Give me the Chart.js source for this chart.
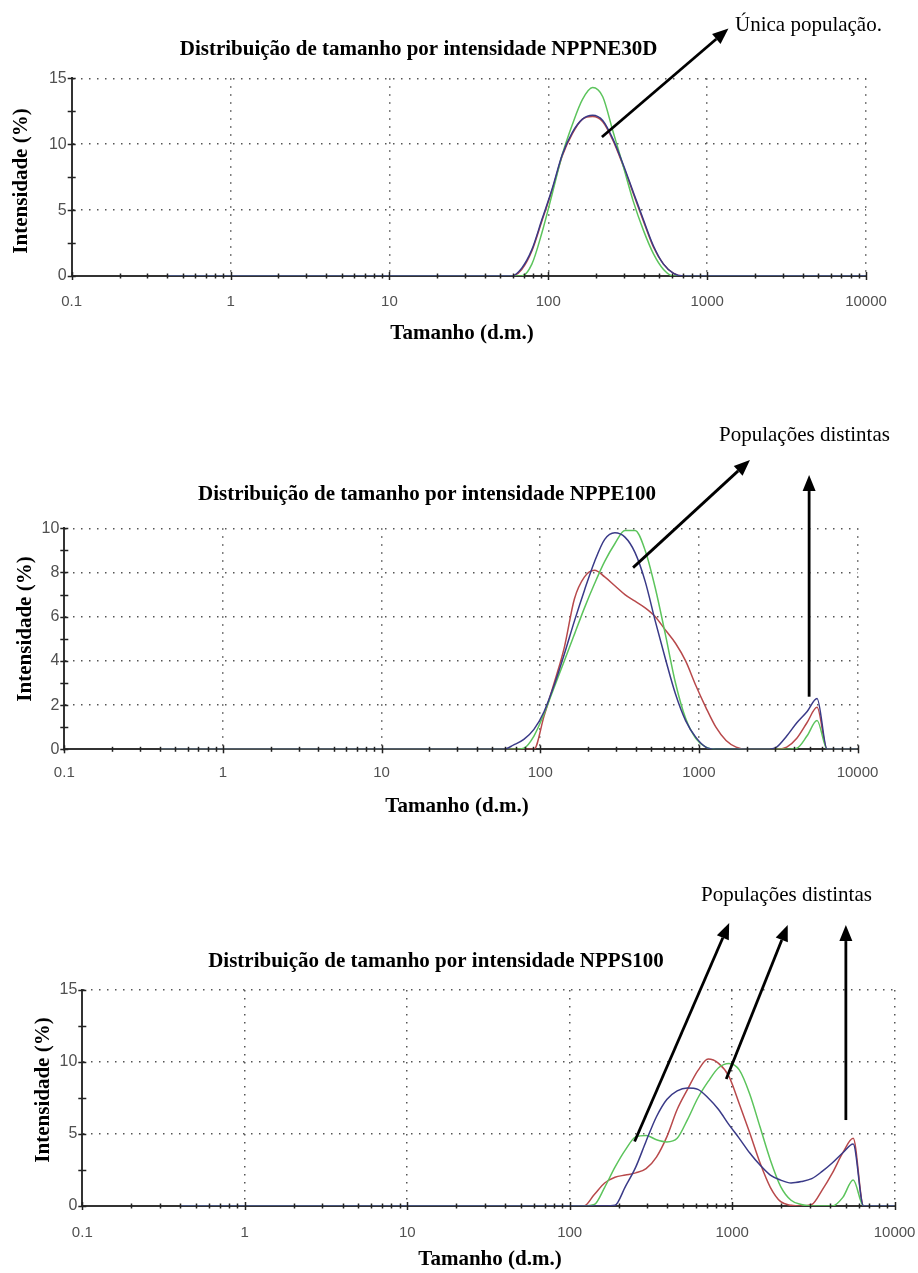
<!DOCTYPE html>
<html>
<head>
<meta charset="utf-8">
<title>Distribuição de tamanho por intensidade</title>
<script src="https://cdn.jsdelivr.net/npm/chart.js@4.4.1/dist/chart.umd.min.js"></script>
<style>
html,body{margin:0;padding:0;background:#fff;width:918px;height:1273px;overflow:hidden;}
canvas{position:absolute;left:0;display:block;}
</style>
</head>
<body>
<canvas id="c1"></canvas>
<canvas id="c2"></canvas>
<canvas id="c3"></canvas>
<script>
// ---------------- DATA ----------------
// Size bins (d.nm) of the distribution
const SIZES = [0.4, 58.77, 68.06, 78.82, 91.28, 105.7, 122.4, 141.8, 164.2, 190.1, 220.2, 255.0, 295.3, 342.0, 396.1, 458.7, 531.2, 615.1, 712.4, 825.0, 955.4, 1106, 1281, 1484, 1718, 1990, 2305, 2669, 3091, 3580, 4145, 4801, 5560, 6439, 7456, 8635, 10000];

// NPPNE30D
const NPPNE30D_BLUE  = [0, 0, 0.6, 2.0, 4.3, 6.6, 9.2, 10.9, 11.9, 12.2, 11.8, 10.4, 8.5, 6.4, 4.3, 2.3, 0.9, 0.2, 0, 0, 0, 0, 0, 0, 0, 0, 0, 0, 0, 0, 0, 0, 0, 0, 0, 0, 0];
const NPPNE30D_RED   = [0, 0, 0.5, 1.9, 4.2, 6.5, 9.1, 10.8, 11.9, 12.1, 11.7, 10.3, 8.4, 6.3, 4.2, 2.2, 0.9, 0.2, 0, 0, 0, 0, 0, 0, 0, 0, 0, 0, 0, 0, 0, 0, 0, 0, 0, 0, 0];
const NPPNE30D_GREEN = [0, 0, 0, 0.9, 3.3, 6.2, 9.2, 11.5, 13.4, 14.3, 13.6, 11.0, 8.4, 5.7, 3.5, 1.7, 0.5, 0, 0, 0, 0, 0, 0, 0, 0, 0, 0, 0, 0, 0, 0, 0, 0, 0, 0, 0, 0];

// NPPE100
const NPPE100_BLUE  = [0, 0, 0.2, 0.45, 0.9, 1.7, 2.9, 4.3, 5.8, 7.2, 8.5, 9.5, 9.8, 9.6, 8.9, 7.6, 5.8, 4.1, 2.5, 1.3, 0.55, 0.1, 0, 0, 0, 0, 0, 0, 0.1, 0.6, 1.2, 1.7, 2.3, 0, 0, 0, 0];
const NPPE100_GREEN = [0, 0, 0, 0.05, 0.6, 1.6, 2.8, 4.0, 5.2, 6.4, 7.5, 8.5, 9.3, 9.9, 9.9, 9.0, 7.3, 5.2, 3.0, 1.4, 0.5, 0.1, 0, 0, 0, 0, 0, 0, 0, 0, 0.05, 0.6, 1.3, 0, 0, 0, 0];
const NPPE100_RED   = [0, 0, 0, 0, 0, 1.5, 3.0, 4.6, 6.8, 7.8, 8.1, 7.8, 7.4, 7.0, 6.7, 6.4, 6.0, 5.4, 4.8, 4.0, 2.9, 1.9, 1.0, 0.4, 0.1, 0, 0, 0, 0, 0.1, 0.5, 1.2, 1.9, 0, 0, 0, 0];

// NPPS100
const NPPS100_BLUE  = [0, 0, 0, 0, 0, 0, 0, 0, 0, 0.05, 1.35, 2.7, 4.5, 6.2, 7.4, 8.0, 8.2, 8.1, 7.5, 6.7, 5.65, 4.7, 3.7, 2.85, 2.15, 1.8, 1.6, 1.7, 1.9, 2.4, 3.0, 3.7, 4.3, 0, 0, 0, 0];
const NPPS100_GREEN = [0, 0, 0, 0, 0, 0, 0, 0.1, 1.3, 2.7, 3.9, 4.8, 4.9, 4.6, 4.45, 4.7, 6.0, 7.5, 8.65, 9.6, 9.9, 9.45, 7.8, 5.5, 3.2, 1.35, 0.4, 0.1, 0, 0, 0, 0.6, 1.8, 0, 0, 0, 0];
const NPPS100_RED   = [0, 0, 0, 0, 0, 0, 0, 0.8, 1.6, 2.0, 2.15, 2.3, 2.6, 3.4, 4.8, 6.7, 8.1, 9.4, 10.2, 9.9, 9.0, 7.1, 5.1, 3.0, 1.3, 0.3, 0.05, 0, 0.1, 1.1, 2.3, 3.7, 4.7, 0, 0, 0, 0];

// Tick labels
const X_DECADES = [0.1, 1, 10, 100, 1000, 10000];
const X_TICK_LABELS = ['0.1', '1', '10', '100', '1000', '10000'];
const Y_TICKS_15 = [0, 5, 10, 15];
const Y_TICKS_10 = [0, 2, 4, 6, 8, 10];

// Texts
const TITLES = ['Distribuição de tamanho por intensidade NPPNE30D', 'Distribuição de tamanho por intensidade NPPE100', 'Distribuição de tamanho por intensidade NPPS100'];
const NOTES = ['Única população.', 'Populações distintas', 'Populações distintas'];
const X_TITLE = 'Tamanho (d.m.)';
const Y_TITLE = 'Intensidade (%)';

// Annotation arrows in data units [size, intensity]
const ARROWS1 = [[[217.6, 10.55], [1362, 18.77]]];
const ARROWS2 = [[[384.8, 8.22], [2099, 13.09]], [[4955, 2.38], [4955, 12.41]]];
const ARROWS3 = [[[251, 4.48], [959, 19.65]], [[920, 8.82], [2198, 19.51]], [[5012, 5.97], [5012, 19.51]]];

// ---------------- STYLE ----------------
const BLUE = '#3a3a88', GREEN = '#5cc45c', RED = '#b8494b';
const SERIF = '"Liberation Serif", "Times New Roman", serif';
const SANS = '"Liberation Sans", Arial, sans-serif';
const W = 918;

function toXY(xs, ys) { return xs.map((x, i) => ({x: x, y: ys[i]})); }
function logTicks() {
  const out = [];
  for (let k = 0; k < X_DECADES.length - 1; k++) {
    out.push(X_DECADES[k]);
    for (let m = 2; m <= 9; m++) out.push(m * X_DECADES[k]);
  }
  out.push(X_DECADES[X_DECADES.length - 1]);
  return out;
}
function near(a, b) { return Math.abs(a - b) < 1e-6; }

const annotPlugin = {
  id: 'annot',
  afterDraw(chart, args, opts) {
    const ctx = chart.ctx, xs = chart.scales.x, ys = chart.scales.y, ca = chart.chartArea;
    ctx.save();
    // tick marks crossing the axes
    ctx.strokeStyle = '#222';
    ctx.lineWidth = 1.5;
    xs.ticks.forEach(t => {
      const px = Math.round(xs.getPixelForValue(t.value)) + 0.5;
      const major = X_DECADES.some(d => near(d, t.value));
      const h = major ? 4 : 2.5;
      ctx.beginPath(); ctx.moveTo(px, ca.bottom - h); ctx.lineTo(px, ca.bottom + h); ctx.stroke();
    });
    ys.ticks.forEach(t => {
      const py = Math.round(ys.getPixelForValue(t.value)) + 0.5;
      ctx.beginPath(); ctx.moveTo(ca.left - 4, py); ctx.lineTo(ca.left + 4, py); ctx.stroke();
    });
    // arrows
    ctx.strokeStyle = '#000'; ctx.fillStyle = '#000';
    (opts.arrows || []).forEach(a => {
      const x1 = xs.getPixelForValue(a[0][0]), y1 = ys.getPixelForValue(a[0][1]);
      const x2 = xs.getPixelForValue(a[1][0]), y2 = ys.getPixelForValue(a[1][1]);
      const ang = Math.atan2(y2 - y1, x2 - x1), L = 16, hw = 6.5;
      const bx = x2 - L * Math.cos(ang), by = y2 - L * Math.sin(ang);
      ctx.lineWidth = 2.8;
      ctx.beginPath(); ctx.moveTo(x1, y1); ctx.lineTo(bx, by); ctx.stroke();
      ctx.beginPath(); ctx.moveTo(x2, y2);
      ctx.lineTo(bx + hw * Math.sin(ang), by - hw * Math.cos(ang));
      ctx.lineTo(bx - hw * Math.sin(ang), by + hw * Math.cos(ang));
      ctx.closePath(); ctx.fill();
    });
    // texts
    (opts.texts || []).forEach(t => {
      ctx.save();
      ctx.fillStyle = '#000';
      ctx.font = t.font;
      ctx.textAlign = t.align || 'center';
      ctx.textBaseline = 'middle';
      ctx.translate(t.x, t.y);
      if (t.rot) ctx.rotate(t.rot);
      ctx.fillText(t.text, 0, 0);
      ctx.restore();
    });
    ctx.restore();
  }
};

function makeChart(id, c) {
  const cv = document.getElementById(id);
  cv.width = W; cv.height = c.h;
  cv.style.width = W + 'px'; cv.style.height = c.h + 'px'; cv.style.top = c.top + 'px';
  const mk = (label, data, color) => ({
    label: label, data: toXY(SIZES, data), borderColor: color, backgroundColor: color,
    showLine: true, pointRadius: 0, borderWidth: 1.5, cubicInterpolationMode: 'monotone', fill: false
  });
  const T = c.top;
  const bold = 'bold 21px ' + SERIF, reg = '21px ' + SERIF;
  const texts = [
    {text: c.title, x: c.titlePos[0], y: c.titlePos[1] - T, font: bold},
    {text: c.note, x: c.notePos[0], y: c.notePos[1] - T, font: reg, align: 'left'},
    {text: X_TITLE, x: c.xtPos[0], y: c.xtPos[1] - T, font: bold},
    {text: Y_TITLE, x: c.ytPos[0], y: c.ytPos[1] - T, font: bold, rot: -Math.PI / 2}
  ];
  new Chart(cv, {
    type: 'scatter',
    data: {datasets: [mk('Registro 1', c.blue, BLUE), mk('Registro 2', c.green, GREEN), mk('Registro 3', c.red, RED)]},
    options: {
      responsive: false, animation: false, devicePixelRatio: 1,
      layout: {padding: {left: 0, top: c.area.top - T, right: W - c.area.right, bottom: 0}},
      plugins: {legend: {display: false}, tooltip: {enabled: false}, annot: {arrows: c.arrows, texts: texts}},
      scales: {
        x: {
          type: 'logarithmic', min: 0.1, max: 10000, position: 'bottom',
          afterBuildTicks: s => { s.ticks = logTicks().map(v => ({value: v})); },
          afterFit: s => { s.height = c.h - (c.area.bottom - T); s.paddingLeft = 0; s.paddingRight = 0; },
          ticks: {autoSkip: false, maxRotation: 0, padding: c.xpad, color: '#505050', font: {family: SANS, size: 15},
            callback: v => { const i = X_DECADES.findIndex(d => near(d, v)); return i >= 0 ? X_TICK_LABELS[i] : ''; }},
          grid: {drawTicks: false, lineWidth: 1.5,
            color: g => (g.tick && X_DECADES.some(d => near(d, g.tick.value)) && !near(g.tick.value, 0.1)) ? '#555' : 'rgba(0,0,0,0)'},
          border: {display: true, color: '#333', width: 2, dash: [1.5, 6.5]}
        },
        y: {
          type: 'linear', min: 0, max: c.ymax,
          afterBuildTicks: s => { const out = []; for (let v = 0; v <= c.ymax + 1e-9; v += c.minor) out.push({value: v}); s.ticks = out; },
          afterFit: s => { s.width = c.area.left; s.paddingTop = 0; s.paddingBottom = 0; },
          ticks: {autoSkip: false, padding: 5, color: '#505050', font: {family: SANS, size: 16},
            callback: v => { const i = c.yticks.findIndex(d => near(d, v)); return i >= 0 ? String(c.yticks[i]) : ''; }},
          grid: {drawTicks: false, lineWidth: 1.5,
            color: g => (g.tick && g.tick.value > 0 && c.yticks.some(d => near(d, g.tick.value))) ? '#555' : 'rgba(0,0,0,0)'},
          border: {display: true, color: '#333', width: 2, dash: [1.5, 6.5]}
        }
      }
    },
    plugins: [annotPlugin]
  });
}

makeChart('c1', {top: 0, h: 360, area: {left: 71.7, right: 866, top: 78.3, bottom: 276}, xpad: 17,
  ymax: 15, minor: 2.5, yticks: Y_TICKS_15,
  blue: NPPNE30D_BLUE, green: NPPNE30D_GREEN, red: NPPNE30D_RED, arrows: ARROWS1,
  title: TITLES[0], titlePos: [418.6, 50], note: NOTES[0], notePos: [735, 25], xtPos: [462, 334], ytPos: [21.7, 181]});

makeChart('c2', {top: 400, h: 420, area: {left: 64.3, right: 857.5, top: 528.3, bottom: 749.3}, xpad: 15,
  ymax: 10, minor: 1, yticks: Y_TICKS_10,
  blue: NPPE100_BLUE, green: NPPE100_GREEN, red: NPPE100_RED, arrows: ARROWS2,
  title: TITLES[1], titlePos: [427, 495], note: NOTES[1], notePos: [719, 435], xtPos: [457, 807], ytPos: [26, 629]});

makeChart('c3', {top: 870, h: 403, area: {left: 82.3, right: 894.6, top: 990, bottom: 1206}, xpad: 18,
  ymax: 15, minor: 2.5, yticks: Y_TICKS_15,
  blue: NPPS100_BLUE, green: NPPS100_GREEN, red: NPPS100_RED, arrows: ARROWS3,
  title: TITLES[2], titlePos: [436, 962], note: NOTES[2], notePos: [701, 895], xtPos: [490, 1260], ytPos: [44, 1090]});
</script>
</body>
</html>
